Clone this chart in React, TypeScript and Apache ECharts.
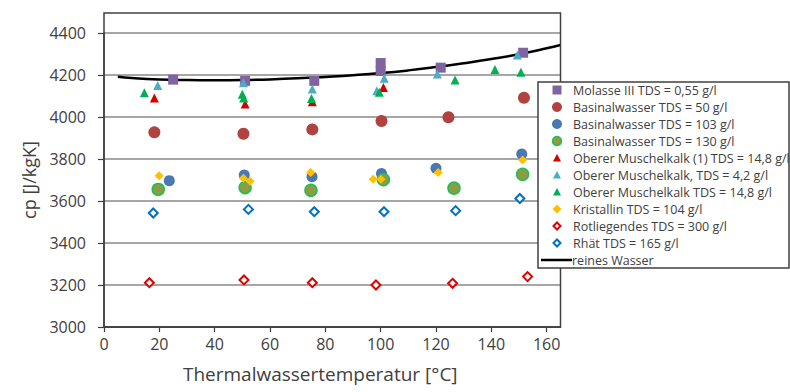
import React, { useEffect, useRef } from "react";
import * as echarts from "echarts";

const molasse: [number, number][] = [[25, 4178], [51, 4172], [76, 4172], [100, 4257], [100, 4219], [121.7, 4235], [151.5, 4306]];
const basin50: [number, number][] = [[18.2, 3927], [50.4, 3920], [75.3, 3941], [100.3, 3981], [124.5, 3999], [151.8, 4092]];
const basin103: [number, number][] = [[23.6, 3697], [50.7, 3724], [75.2, 3716], [100.3, 3731], [120, 3756], [151, 3824]];
const basin130: [number, number][] = [[19.6, 3655], [51, 3664], [74.8, 3651], [101, 3702], [126.5, 3661], [151.3, 3727]];
const muschel1: [number, number][] = [[18.2, 4090], [51, 4062], [75.3, 4073], [101, 4140]];
const muschel42: [number, number][] = [[19.4, 4150], [50.4, 4163], [75.3, 4133], [101.3, 4184], [98.6, 4125], [120.5, 4205], [149.4, 4295]];
const muschel148: [number, number][] = [[14.6, 4116], [50, 4108], [50.5, 4090], [75, 4088], [99.5, 4118], [126.9, 4176], [141.3, 4226], [150.7, 4213]];
const kristallin: [number, number][] = [[19.9, 3720], [50.4, 3708], [52.8, 3694], [74.7, 3736], [97.3, 3704], [100.1, 3704], [120.8, 3736], [151.3, 3795]];
const rotliegendes: [number, number][] = [[16.4, 3211], [50.6, 3224], [75.3, 3211], [98.3, 3200], [126, 3208], [153.1, 3240]];
const rhaet: [number, number][] = [[17.8, 3543], [52.2, 3560], [76, 3549], [101.2, 3549], [127.1, 3554], [150.3, 3612]];
const reinesWasser: [number, number][] = [[5, 4192], [10, 4186], [20, 4179], [30, 4176], [40, 4175], [50, 4176], [60, 4179], [70, 4184], [80, 4191], [90, 4199], [100, 4209], [110, 4222], [120, 4238], [130, 4256], [140, 4276], [150, 4299], [160, 4327], [165, 4343]];

const legendNames = [
  "Molasse III TDS = 0,55 g/l",
  "Basinalwasser TDS = 50 g/l",
  "Basinalwasser TDS = 103 g/l",
  "Basinalwasser TDS = 130 g/l",
  "Oberer Muschelkalk (1) TDS = 14,8 g/l",
  "Oberer Muschelkalk, TDS = 4,2 g/l",
  "Oberer Muschelkalk TDS = 14,8 g/l",
  "Kristallin TDS = 104 g/l",
  "Rotliegendes TDS = 300 g/l",
  "Rhät TDS = 165 g/l",
  "reines Wasser",
];
const xTicks = { min: 0, max: 165, interval: 20 };
const yTicks = { min: 3000, max: 4400, interval: 200 };
const xTitle = "Thermalwassertemperatur [°C]";
const yTitle = "cp [J/kgK]";

type Style = { symbol: string; size: number; fill: string; stroke?: string; sw?: number };
const styles: Style[] = [
  { symbol: "rect", size: 10, fill: "#8064A2" },
  { symbol: "circle", size: 12, fill: "#B0433F" },
  { symbol: "circle", size: 11, fill: "#4A78B4" },
  { symbol: "circle", size: 12, fill: "#8C9C44", stroke: "#1FBF55", sw: 1.5 },
  { symbol: "triangle", size: 9, fill: "#D40000" },
  { symbol: "triangle", size: 9, fill: "#4BACC6" },
  { symbol: "triangle", size: 9, fill: "#00B050" },
  { symbol: "diamond", size: 9, fill: "#FFC000" },
  { symbol: "diamond", size: 9, fill: "#ffffff", stroke: "#E00000", sw: 2 },
  { symbol: "diamond", size: 9, fill: "#ffffff", stroke: "#0070C0", sw: 2 },
];
const scatterData = [molasse, basin50, basin103, basin130, muschel1, muschel42, muschel148, kristallin, rotliegendes, rhaet];

const FONT = "'Open Sans', sans-serif";
const TXT = "#404040";

function legendGraphics(): any[] {
  const els: any[] = [];
  const left = 538, top = 82, width = 251, height = 186;
  els.push({ type: "rect", shape: { x: left, y: top, width, height }, style: { fill: "#fff", stroke: "#404040", lineWidth: 1.5 }, z: 100 });
  const sx = 557, tx = 573, y0 = 90, dy = 17;
  legendNames.forEach((name, i) => {
    const y = y0 + i * dy;
    if (i < styles.length) {
      const s = styles[i];
      const st: any = { fill: s.fill, stroke: s.stroke || null, lineWidth: s.sw || 0 };
      if (s.symbol === "rect") {
        els.push({ type: "rect", shape: { x: sx - 4.5, y: y - 4.5, width: 9, height: 9 }, style: st, z: 101 });
      } else if (s.symbol === "circle") {
        els.push({ type: "circle", shape: { cx: sx, cy: y, r: s.sw ? 4.5 : 5 }, style: st, z: 101 });
      } else if (s.symbol === "triangle") {
        els.push({ type: "polygon", shape: { points: [[sx, y - 4], [sx + 4, y + 3.5], [sx - 4, y + 3.5]] }, style: st, z: 101 });
      } else {
        const r = s.stroke ? 3.5 : 4.5;
        els.push({ type: "polygon", shape: { points: [[sx, y - r], [sx + r, y], [sx, y + r], [sx - r, y]] }, style: st, z: 101 });
      }
    } else {
      els.push({ type: "line", shape: { x1: 541, y1: y, x2: 572, y2: y }, style: { stroke: "#000", lineWidth: 2.5 }, z: 101 });
    }
    els.push({
      type: "text", x: i < styles.length ? tx : 572, y, z: 101,
      style: { text: name, fill: TXT, font: `12.5px ${FONT}`, align: "left", verticalAlign: "middle" },
    });
  });
  return els;
}

export default function App() {
  const ref = useRef<HTMLDivElement>(null);
  useEffect(() => {
    if (!ref.current) return;
    const chart = echarts.init(ref.current, null, { renderer: "svg" });
    const series: any[] = [
      {
        name: legendNames[10], type: "line", data: reinesWasser, smooth: true, showSymbol: false,
        lineStyle: { color: "#000", width: 2.5 }, z: 2,
      },
      ...scatterData.map((d, i) => ({
        name: legendNames[i], type: "scatter", data: d, symbol: styles[i].symbol, symbolSize: styles[i].size,
        itemStyle: { color: styles[i].fill, borderColor: styles[i].stroke, borderWidth: styles[i].sw || 0, opacity: 1 },
        z: 3,
      })),
    ];
    chart.setOption({
      animation: false,
      backgroundColor: "#fff",
      grid: { left: 104, top: 33, right: 229.5, bottom: 65, containLabel: false },
      xAxis: {
        type: "value", min: xTicks.min, max: xTicks.max, interval: xTicks.interval,
        name: xTitle, nameLocation: "middle", nameGap: 37,
        nameTextStyle: { fontFamily: FONT, fontSize: 19, color: TXT, padding: [0, 24, 0, 0] },
        axisLine: { show: true, onZero: false, lineStyle: { color: "#404040", width: 1.5 } },
        axisTick: { show: true, length: 5, lineStyle: { color: "#404040", width: 1.2 } },
        axisLabel: { fontFamily: FONT, fontSize: 16, color: TXT, margin: 9, showMaxLabel: false, formatter: (v: number) => String(v) },
        splitLine: { show: false },
      },
      yAxis: {
        type: "value", min: yTicks.min, max: yTicks.max, interval: yTicks.interval,
        name: yTitle, nameLocation: "middle", nameGap: 66,
        nameTextStyle: { fontFamily: FONT, fontSize: 18, color: TXT },
        axisLine: { show: true, lineStyle: { color: "#404040", width: 1.5 } },
        axisTick: { show: true, length: 6, lineStyle: { color: "#404040", width: 1.2 } },
        axisLabel: { fontFamily: FONT, fontSize: 16, color: TXT, margin: 18, formatter: (v: number) => String(v) },
        splitLine: { show: true, lineStyle: { color: "#A6A6A6", width: 2 } },
      },
      graphic: [
        { type: "rect", shape: { x: 104, y: 13, width: 456.5, height: 314 }, style: { fill: "none", stroke: "#404040", lineWidth: 1.5 }, z: 50, silent: true },
        ...legendGraphics(),
      ],
      series,
    });
    return () => chart.dispose();
  }, []);
  return <div ref={ref} style={{ width: 790, height: 392, position: "absolute", left: 0, top: 0 }} />;
}
